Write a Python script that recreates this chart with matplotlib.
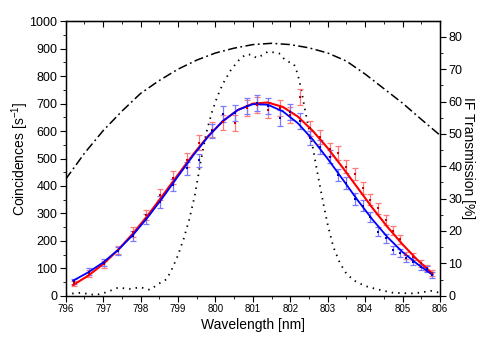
import matplotlib
matplotlib.use("Agg")
import matplotlib.pyplot as plt
from matplotlib.ticker import MultipleLocator

plt.rcParams['font.family'] = ['Liberation Sans', 'DejaVu Sans']
plt.rcParams['mathtext.default'] = 'regular'

# ---- measured coincidences (points with error bars) ----
wl_pts = [796.22, 796.63, 797.02, 797.41, 797.79, 798.15, 798.52, 798.87, 799.23, 799.56,
          799.90, 800.21, 800.52, 800.84, 801.12, 801.41, 801.73, 801.99, 802.26, 802.53,
          802.79, 803.06, 803.28, 803.49, 803.72, 803.93, 804.14, 804.34, 804.56, 804.74,
          804.93, 805.09, 805.28, 805.48, 805.65, 805.80]
red_pts = [45, 80, 114, 166, 232, 295, 368, 430, 495, 558,
           605, 632, 630, 685, 695, 677, 685, 658, 725, 610,
           579, 533, 519, 470, 443, 391, 350, 318, 276, 237,
           205, 148, 142, 118, 100, 82]
red_err = [10, 12, 13, 15, 17, 19, 21, 23, 25, 26,
           27, 28, 28, 29, 29, 29, 29, 28, 30, 27,
           26, 25, 25, 24, 23, 22, 21, 20, 18, 17,
           16, 13, 13, 12, 11, 10]
blue_pts = [52, 88, 120, 163, 218, 280, 342, 405, 465, 493,
            600, 662, 665, 692, 701, 690, 648, 669, 636, 574,
            543, 507, 440, 410, 353, 328, 287, 233, 209, 167,
            155, 136, 124, 106, 96, 75]
blue_err = [10, 12, 13, 15, 17, 19, 21, 22, 24, 25,
            27, 29, 29, 29, 29, 29, 28, 29, 28, 26,
            25, 24, 23, 22, 21, 20, 18, 17, 16, 14,
            14, 13, 12, 11, 11, 10]

# ---- fitted curves ----
wl_fit = [796.2, 796.6, 797.0, 797.4, 797.8, 798.2, 798.6, 799.0, 799.4, 799.8,
          800.2, 800.6, 801.0, 801.4, 801.8, 802.2, 802.6, 803.0, 803.4, 803.8,
          804.2, 804.6, 805.0, 805.4, 805.8]
red_fit = [39, 73, 115, 167, 227, 294, 367, 441, 514, 581,
           636, 677, 700, 704, 688, 653, 601, 538, 467, 393,
           319, 250, 187, 130, 80]
blue_fit = [55, 85, 121, 167, 222, 287, 359, 435, 510, 579,
            637, 677, 698, 696, 672, 629, 569, 499, 424, 348,
            277, 213, 159, 115, 76]

# ---- transmission curves (right axis, %) ----
wl_broad = [796.0, 796.5, 797.0, 797.5, 798.0, 798.5, 799.0, 799.5, 800.0, 800.5,
            801.0, 801.5, 802.0, 802.5, 803.0, 803.5, 804.0, 804.5, 805.0, 805.5, 806.0]
broad_T = [36, 44, 51, 57, 62.5, 66.5, 70, 72.8, 75, 76.5,
           77.6, 78, 77.6, 76.6, 75, 72.5, 68.5, 64, 59.5, 54.5, 49.6]

wl_if = [796.0, 796.4, 796.8, 797.1, 797.4, 797.7, 798.0, 798.25, 798.5, 798.7,
         798.85, 799.0, 799.15, 799.3, 799.45, 799.6, 799.75, 799.9, 800.05, 800.2,
         800.4, 800.6, 800.8, 800.95, 801.1, 801.25, 801.4, 801.55, 801.7, 801.85,
         802.0, 802.1, 802.2, 802.3, 802.4, 802.5, 802.6, 802.7, 802.8, 802.9,
         803.0, 803.15, 803.33, 803.5, 803.7, 804.0, 804.25, 804.5, 804.75, 805.0,
         805.3, 805.5, 805.75, 806.0]
if_T = [0.5, 0.9, 0.2, 1.1, 2.5, 2.1, 2.6, 1.8, 3.8, 5.1,
        8.5, 12.5, 17.5, 23.5, 31, 41, 50, 56.5, 61.5, 65.5,
        69.5, 72.5, 74.5, 74.5, 73.5, 74.3, 75.4, 75.2, 74.9, 73,
        72, 71.5, 68.5, 63.3, 57, 51.5, 46, 39.5, 33.5, 27.5,
        22, 15.1, 10, 6.8, 4.7, 3.0, 2.2, 1.5, 0.9, 0.8,
        0.7, 1.0, 1.5, 0.9]

fig = plt.figure(figsize=(4.91, 3.43), dpi=100)
ax = fig.add_axes([0.1338, 0.1379, 0.7623, 0.8000])
ax2 = ax.twinx()

# right axis curves
ax2.plot(wl_broad, broad_T, color='black', lw=1.1, dashes=(6, 2.2, 1.2, 2.2))
ax2.plot(wl_if, if_T, color='black', lw=1.3, dashes=(0.8, 2.8))
ax2.set_ylim(0, 84.8)

# data with error bars
ax.set_zorder(ax2.get_zorder() + 1)
ax.patch.set_visible(False)
ax.errorbar(wl_pts, red_pts, yerr=red_err, fmt='none', ecolor='#ff7a7a',
            elinewidth=0.9, capsize=2.5, capthick=0.9)
ax.errorbar(wl_pts, blue_pts, yerr=blue_err, fmt='none', ecolor='#7a7aff',
            elinewidth=0.9, capsize=2.5, capthick=0.9)
ax.plot(wl_fit, red_fit, color='#ff0000', lw=1.5)
ax.plot(wl_fit, blue_fit, color='#0000ff', lw=1.3)
ax.plot(wl_pts, red_pts, 's', color='#d00000', ms=2.0, mew=0)
ax.plot(wl_pts, blue_pts, 's', color='#0000c0', ms=2.0, mew=0)

ax.set_xlim(796, 806)
ax.set_ylim(0, 1000)
ax.xaxis.set_major_locator(MultipleLocator(1))
ax.xaxis.set_minor_locator(MultipleLocator(0.5))
ax.yaxis.set_major_locator(MultipleLocator(100))
ax.yaxis.set_minor_locator(MultipleLocator(50))
ax2.yaxis.set_major_locator(MultipleLocator(10))
ax2.yaxis.set_minor_locator(MultipleLocator(5))

ax.tick_params(axis='x', which='both', direction='out', top=False, labelsize=7, pad=2)
ax.tick_params(axis='x', which='major', length=4)
ax.tick_params(axis='x', which='minor', length=2.5)
ax.tick_params(axis='y', which='both', direction='out', labelsize=9, pad=2)
ax.tick_params(axis='y', which='major', length=4)
ax.tick_params(axis='y', which='minor', length=2.5)
ax2.tick_params(axis='y', which='both', direction='out', labelsize=9, pad=2)
ax2.tick_params(axis='y', which='major', length=4)
ax2.tick_params(axis='y', which='minor', length=2.5)

# top ticks inward
secx = ax.secondary_xaxis('top')
secx.xaxis.set_major_locator(MultipleLocator(1))
secx.xaxis.set_minor_locator(MultipleLocator(0.5))
secx.tick_params(axis='x', which='both', direction='in', labeltop=False)
secx.tick_params(axis='x', which='major', length=4)
secx.tick_params(axis='x', which='minor', length=2.5)

for a in (ax, ax2):
    for s in a.spines.values():
        s.set_linewidth(0.9)

ax.set_xlabel('Wavelength [nm]', fontsize=10, labelpad=3)
ax.set_ylabel('Coincidences [s$^{-1}$]', fontsize=10, labelpad=-1)
ax2.set_ylabel('IF Transmission [%]', fontsize=10, rotation=270, labelpad=9)

fig.savefig('out.png', dpi=100)
